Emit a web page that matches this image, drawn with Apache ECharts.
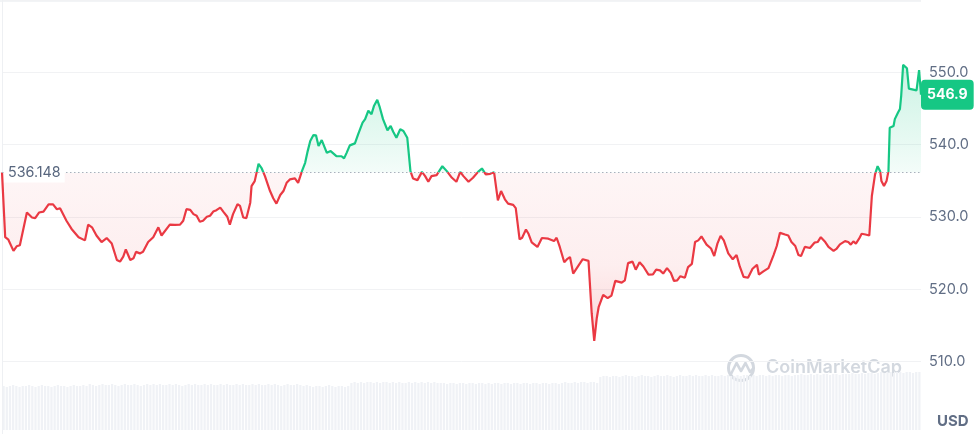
<!DOCTYPE html>
<html><head><meta charset="utf-8">
<script src="https://cdn.jsdelivr.net/npm/echarts@6/dist/echarts.min.js"></script>
<style>html,body{margin:0;padding:0;background:#fff}#c{width:980px;height:434px}</style>
</head><body><div id="c"></div>
<script>
// minutes since start of the 24h window
const times = [
0,5,10,18,23,28,39,47,52,58,
65,73,80,86,91,101,109,120,130,135,
141,148,156,164,172,180,185,190,194,201,
206,210,216,221,229,237,245,250,253,263,
271,279,284,289,295,300,305,310,315,321,
326,331,336,342,347,353,357,362,369,373,
378,383,389,391,396,402,407,412,420,425,
430,436,441,446,451,459,464,470,475,479,
483,488,492,496,501,509,515,524,532,536,
540,545,553,558,565,569,574,579,583,588,
592,597,604,609,613,618,624,629,635,640,
644,651,658,663,668,673,681,690,697,705,
712,718,723,731,738,746,752,758,765,771,
777,782,788,793,801,805,811,815,821,825,
830,839,846,856,865,869,874,881,885,890,
895,903,910,919,924,928,932,935,942,949,
955,961,971,976,981,988,993,999,1005,1013,
1020,1025,1031,1036,1042,1048,1053,1058,1063,1070,
1075,1081,1086,1091,1096,1104,1111,1116,1121,1126,
1131,1138,1145,1151,1156,1162,1169,1176,1183,1186,
1193,1201,1209,1214,1219,1227,1232,1237,1243,1248,
1252,1258,1266,1273,1278,1283,1290,1295,1303,1308,
1313,1321,1326,1330,1334,1338,1343,1347,1353,1359,
1363,1368,1372,1376,1378,1382,1386,1389,1391,1397,
1399,1404,1407,1409,1412,1418,1421,1424,1433,1437,
1440];
const prices = [
536.15,527.21,526.86,525.32,525.95,526.09,530.62,529.93,529.85,530.62,
530.75,531.76,531.74,531.08,531.22,529.48,528.35,527.21,526.77,528.94,
528.57,527.44,526.54,527.08,526.32,524.06,523.83,524.51,525.51,524.06,
524.29,525.18,524.97,525.18,526.54,527.21,528.57,527.44,527.31,528.94,
528.92,528.95,529.48,531.08,530.99,530.40,530.17,529.35,529.48,530.03,
530.17,530.75,530.94,531.30,530.71,530.03,528.94,530.40,531.76,531.53,
529.93,529.85,531.98,534.27,534.96,537.35,536.71,535.65,533.59,532.59,
531.85,533.04,533.59,534.73,535.20,535.33,534.73,536.34,537.49,539.11,
540.50,541.33,541.29,539.80,540.64,538.87,539.11,538.42,538.40,538.10,
538.87,539.90,540.18,541.43,543.05,543.53,544.69,544.22,545.39,546.19,
545.15,543.53,541.99,542.59,541.79,540.96,542.13,541.89,540.96,536.34,
535.33,535.10,536.24,535.65,534.87,535.65,535.79,537.03,536.34,535.42,
534.87,536.24,535.65,534.87,535.42,536.24,536.71,535.89,535.97,536.20,
532.31,533.59,532.45,531.85,531.67,531.22,526.90,527.13,528.26,527.68,
526.50,525.86,527.10,527.00,526.67,527.13,525.86,523.75,524.13,524.47,
522.18,523.25,524.16,523.93,516.70,512.86,516.04,517.59,519.23,518.79,
519.14,521.17,520.93,521.24,523.62,523.83,522.72,523.75,523.16,522.04,
522.06,522.72,522.62,522.18,522.94,522.27,521.15,521.24,521.82,521.60,
523.08,523.52,526.54,526.77,527.31,526.18,525.64,524.60,526.32,527.40,
526.77,524.97,524.16,524.74,523.16,521.73,521.60,522.85,523.39,522.04,
522.49,522.94,524.74,525.99,527.81,527.58,527.44,526.54,525.99,524.74,
524.60,525.86,525.72,526.45,526.54,527.21,526.54,525.86,525.32,525.64,
526.22,526.67,526.54,526.18,526.63,526.32,527.00,527.68,527.58,527.44,
532.90,535.89,537.03,536.34,534.96,534.27,534.96,536.34,542.35,542.59,
543.53,544.45,544.93,546.79,551.03,550.56,547.74,547.50,547.50,550.32,
546.90];
const basePrice = 536.148;
const lastPrice = 546.9;
const yMin = 500, yMax = 560, yStep = 10;
const yTickLabels = ['500.0', '510.0', '520.0', '530.0', '540.0', '550.0', '560.0'];
const volumes = [
44,43,44,45,44,43,44,44,45,44,43,44,45,44,44,43,44,45,44,44,43,44,45,44,
44,45,44,46,45,44,45,46,45,45,46,45,44,45,46,45,45,46,45,44,45,46,45,46,
45,46,45,45,46,45,46,45,44,45,46,45,46,45,45,46,45,46,45,45,46,45,46,45,
45,46,45,46,45,45,46,45,46,45,45,46,45,46,45,44,45,46,45,45,46,45,44,45,
44,43,44,44,43,44,45,44,43,44,44,43,44,47,48,47,48,47,48,48,47,48,47,48,
48,47,48,47,48,47,47,48,47,48,47,48,47,48,47,48,47,47,47,46,47,47,46,47,
47,46,47,47,46,47,47,46,47,46,47,47,46,47,47,46,47,47,46,47,47,46,47,47,
46,47,47,46,47,47,46,47,48,47,47,48,47,48,48,47,48,48,47,53,54,54,53,54,
54,53,54,55,54,54,53,54,55,54,54,53,54,55,54,54,55,54,53,54,55,54,54,55,
54,55,54,54,55,54,55,54,54,55,54,55,54,54,55,54,55,55,54,55,54,55,55,54,
55,54,55,55,54,55,55,54,55,55,56,55,55,56,55,56,55,56,56,55,56,56,55,56,
56,56,57,56,56,57,56,57,57,56,57,58,57,58,58,57,58,58,57,58,58,57,58,58];

const GREEN = '#16c784', RED = '#ea3943';
const pMax = Math.max(...prices), pMin = Math.min(...prices);
const f = (pMax - basePrice) / (pMax - pMin);
const FONT = 'Inter, "Noto Sans", sans-serif';
const tickLabel = v => yTickLabels[Math.round((v - yMin) / yStep)] || v.toFixed(1);

const chart = echarts.init(document.getElementById('c'), null, {renderer: 'canvas'});
chart.setOption({
  animation: false,
  backgroundColor: '#ffffff',
  grid: [
    {left: 2, right: 59, top: -2.9, height: 440.5},
    {left: 2, right: 59, top: 330, height: 100}
  ],
  xAxis: [
    {type: 'value', gridIndex: 0, min: 0, max: 1440, show: false},
    {type: 'category', gridIndex: 1, data: volumes.map((_, i) => i), show: false, boundaryGap: true}
  ],
  yAxis: [
    {type: 'value', gridIndex: 0, min: yMin, max: yMax, interval: yStep, position: 'right',
     axisLine: {show: true, lineStyle: {color: '#eef0f3', width: 1}},
     axisTick: {show: false},
     axisLabel: {show: true, margin: 8, formatter: tickLabel, showMinLabel: false, showMaxLabel: false,
                 color: '#616e85', fontSize: 14.5, fontFamily: FONT},
     splitLine: {show: true, lineStyle: {color: '#f1f2f4', width: 1}}},
    {type: 'value', gridIndex: 1, min: 0, max: 100, show: false}
  ],
  series: [
    {
      type: 'line', xAxisIndex: 0, yAxisIndex: 0, z: 3, clip: false,
      data: times.map((t, i) => [t, prices[i]]),
      showSymbol: false, smooth: false,
      lineStyle: {width: 2.2, color: new echarts.graphic.LinearGradient(0, 0, 0, 1, [
        {offset: 0, color: GREEN}, {offset: f, color: GREEN},
        {offset: f, color: RED}, {offset: 1, color: RED}
      ])},
      areaStyle: {
        origin: basePrice,
        color: new echarts.graphic.LinearGradient(0, 0, 0, 1, [
          {offset: 0, color: 'rgba(22,199,132,0.32)'},
          {offset: f, color: 'rgba(22,199,132,0.07)'},
          {offset: f, color: 'rgba(234,57,67,0.07)'},
          {offset: f + (1 - f) * 0.55, color: 'rgba(234,57,67,0.12)'},
          {offset: 1, color: 'rgba(234,57,67,0.30)'}
        ])
      },
      markLine: {
        silent: true, symbol: ['none', 'none'], animation: false,
        emphasis: {disabled: true},
        data: [
          {yAxis: basePrice, name: String(basePrice),
           lineStyle: {color: '#a9b0bc', width: 1.2, type: [1.5, 2.5]},
           label: {show: true, position: 'insideStart', distance: 2, formatter: '{b}',
                   color: '#58667e', fontSize: 14.3, fontFamily: FONT,
                   backgroundColor: '#ffffff', padding: [3, 4]}},
          {yAxis: lastPrice, name: lastPrice.toFixed(1),
           lineStyle: {color: 'rgba(255,255,255,0)', width: 1, type: 'solid'},
           label: {show: true, position: 'end', distance: 0, formatter: '{b}',
                   color: '#ffffff', fontSize: 14, fontWeight: 'bold', fontFamily: FONT,
                   backgroundColor: GREEN, borderRadius: 4, padding: [7, 6], lineHeight: 16}}
        ]
      }
    },
    {
      type: 'bar', xAxisIndex: 1, yAxisIndex: 1, data: volumes, z: 0, silent: true,
      barCategoryGap: '30%', itemStyle: {color: '#f0f2f6'}
    }
  ],
  graphic: [
    {type: 'line', silent: true, shape: {x1: 0, y1: 1, x2: 921, y2: 1},
     style: {stroke: '#eef0f3', lineWidth: 1.5}},
    {type: 'text', left: 937, top: 414, silent: true,
     style: {text: 'USD', fill: '#616e85', font: 'bold 15px ' + FONT}},
    {type: 'group', silent: true, z: 10, children: [
      {type: 'circle', shape: {cx: 741, cy: 368, r: 12.5},
       style: {fill: 'none', stroke: '#d3d8df', lineWidth: 3}},
      {type: 'polyline', shape: {points: [[731, 374], [736.5, 363], [741, 371], [745.5, 363], [750, 372], [753.5, 368]]},
       style: {fill: 'none', stroke: '#d3d8df', lineWidth: 2.6, lineJoin: 'round', lineCap: 'round'}},
      {type: 'text', x: 766, y: 368,
       style: {text: 'CoinMarketCap', fill: '#d3d8df', font: '600 18px ' + FONT, textVerticalAlign: 'middle'}}
    ]}
  ]
});
</script>
</body></html>
